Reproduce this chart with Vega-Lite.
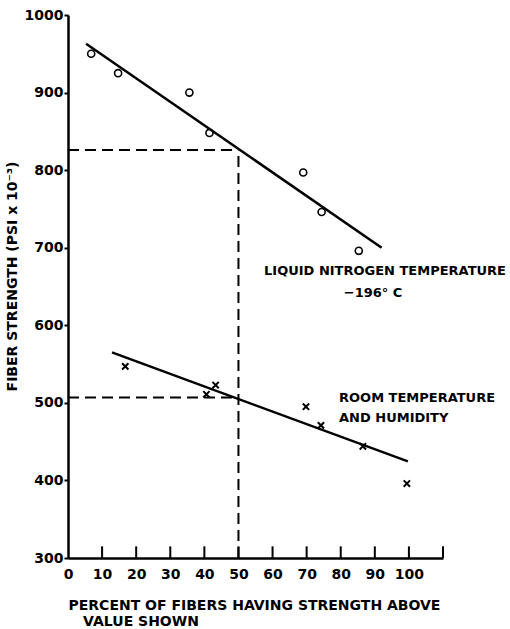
{
  "$schema": "https://vega.github.io/schema/vega-lite/v6.json",
  "autosize": "none",
  "width": 375,
  "height": 543,
  "padding": {"left": 68, "top": 15, "right": 67, "bottom": 71},
  "background": "white",
  "config": {
    "view": {"stroke": null},
    "font": "DejaVu Sans",
    "axis": {
      "grid": false,
      "domainColor": "black",
      "domainWidth": 2.5,
      "tickColor": "black",
      "tickWidth": 2,
      "labelFont": "DejaVu Sans",
      "labelFontWeight": "bold",
      "labelFontSize": 14,
      "labelColor": "black",
      "labelBound": false,
      "labelFlush": false,
      "titleFont": "DejaVu Sans",
      "titleFontWeight": "bold",
      "titleFontSize": 14,
      "titleColor": "black"
    }
  },
  "datasets": {
    "nitrogen": [
      {"pct": 6.8, "strength": 950},
      {"pct": 14.7, "strength": 925},
      {"pct": 35.6, "strength": 900},
      {"pct": 41.5, "strength": 848},
      {"pct": 69.0, "strength": 797},
      {"pct": 74.4, "strength": 746},
      {"pct": 85.3, "strength": 696}
    ],
    "room": [
      {"pct": 16.8, "strength": 547},
      {"pct": 40.6, "strength": 511},
      {"pct": 43.3, "strength": 523},
      {"pct": 69.8, "strength": 495},
      {"pct": 74.2, "strength": 471},
      {"pct": 86.5, "strength": 444},
      {"pct": 99.4, "strength": 396}
    ],
    "fits": [
      {"series": "nitrogen", "pct": 5.3, "strength": 963},
      {"series": "nitrogen", "pct": 92.0, "strength": 700},
      {"series": "room", "pct": 12.9, "strength": 565},
      {"series": "room", "pct": 99.7, "strength": 424.5}
    ],
    "guides": [
      {"pct": 50, "pct2": 50, "strength": 300, "strength2": 826},
      {"pct": 0, "pct2": 50, "strength": 826, "strength2": 826},
      {"pct": 0, "pct2": 50, "strength": 507, "strength2": 507}
    ],
    "xticks": [
      {"pct": 10, "strength": 300, "strength2": 315},
      {"pct": 20, "strength": 300, "strength2": 315},
      {"pct": 30, "strength": 300, "strength2": 315},
      {"pct": 40, "strength": 300, "strength2": 315},
      {"pct": 50, "strength": 300, "strength2": 315},
      {"pct": 60, "strength": 300, "strength2": 315},
      {"pct": 70, "strength": 300, "strength2": 315},
      {"pct": 80, "strength": 300, "strength2": 315},
      {"pct": 90, "strength": 300, "strength2": 315},
      {"pct": 100, "strength": 300, "strength2": 315},
      {"pct": 110, "strength": 300, "strength2": 315}
    ],
    "notesLeft": [
      {"pct": 57.5, "strength": 670, "text": "LIQUID NITROGEN TEMPERATURE"},
      {"pct": 79.5, "strength": 506, "text": "ROOM TEMPERATURE"},
      {"pct": 79.5, "strength": 481, "text": "AND HUMIDITY"}
    ],
    "notesCenter": [
      {"pct": 89.5, "strength": 641, "text": "−196° C"}
    ]
  },
  "encoding": {
    "x": {
      "field": "pct", "type": "quantitative",
      "scale": {"domain": [0, 110], "nice": false, "zero": false},
      "axis": {
        "values": [0, 10, 20, 30, 40, 50, 60, 70, 80, 90, 100],
        "labelOverlap": false,
        "ticks": false,
        "labelPadding": 9,
        "title": ["PERCENT OF FIBERS HAVING STRENGTH ABOVE", "\u200b\u00a0\u00a0\u00a0VALUE SHOWN"],
        "titleAnchor": "start",
        "titleAlign": "left",
        "titleX": 0,
        "titlePadding": 17,
        "titleLineHeight": 16
      }
    },
    "y": {
      "field": "strength", "type": "quantitative",
      "scale": {"domain": [300, 1000], "nice": false, "zero": false},
      "axis": {
        "values": [300, 400, 500, 600, 700, 800, 900, 1000],
        "format": "d",
        "labelOverlap": false,
        "tickSize": 4,
        "labelPadding": 1,
        "title": "FIBER STRENGTH (PSI x 10⁻³)",
        "titleAngle": -90,
        "titleX": -56,
        "titleY": 261,
        "titleAlign": "center",
        "titleBaseline": "middle"
      }
    }
  },
  "layer": [
    {
      "data": {"name": "guides"},
      "mark": {"type": "rule", "color": "black", "strokeWidth": 2, "strokeDash": [11, 6]},
      "encoding": {
        "x2": {"field": "pct2"},
        "y2": {"field": "strength2"}
      }
    },
    {
      "data": {"name": "xticks"},
      "mark": {"type": "rule", "color": "black", "strokeWidth": 2},
      "encoding": {
        "y2": {"field": "strength2"}
      }
    },
    {
      "data": {"name": "fits"},
      "mark": {"type": "line", "color": "black", "strokeWidth": 2.5},
      "encoding": {
        "detail": {"field": "series"}
      }
    },
    {
      "data": {"name": "nitrogen"},
      "mark": {"type": "point", "shape": "circle", "filled": false, "color": "black", "strokeWidth": 1.6, "size": 50, "opacity": 1},
      "encoding": {}
    },
    {
      "data": {"name": "room"},
      "mark": {"type": "point", "shape": "M-1,-1L1,1M-1,1L1,-1", "filled": false, "color": "black", "strokeWidth": 2, "size": 40, "opacity": 1},
      "encoding": {}
    },
    {
      "data": {"name": "notesLeft"},
      "mark": {"type": "text", "font": "DejaVu Sans", "fontWeight": "bold", "fontSize": 13, "color": "black", "baseline": "middle", "align": "left"},
      "encoding": {
        "text": {"field": "text"}
      }
    },
    {
      "data": {"name": "notesCenter"},
      "mark": {"type": "text", "font": "DejaVu Sans", "fontWeight": "bold", "fontSize": 13, "color": "black", "baseline": "middle", "align": "center"},
      "encoding": {
        "text": {"field": "text"}
      }
    }
  ]
}
